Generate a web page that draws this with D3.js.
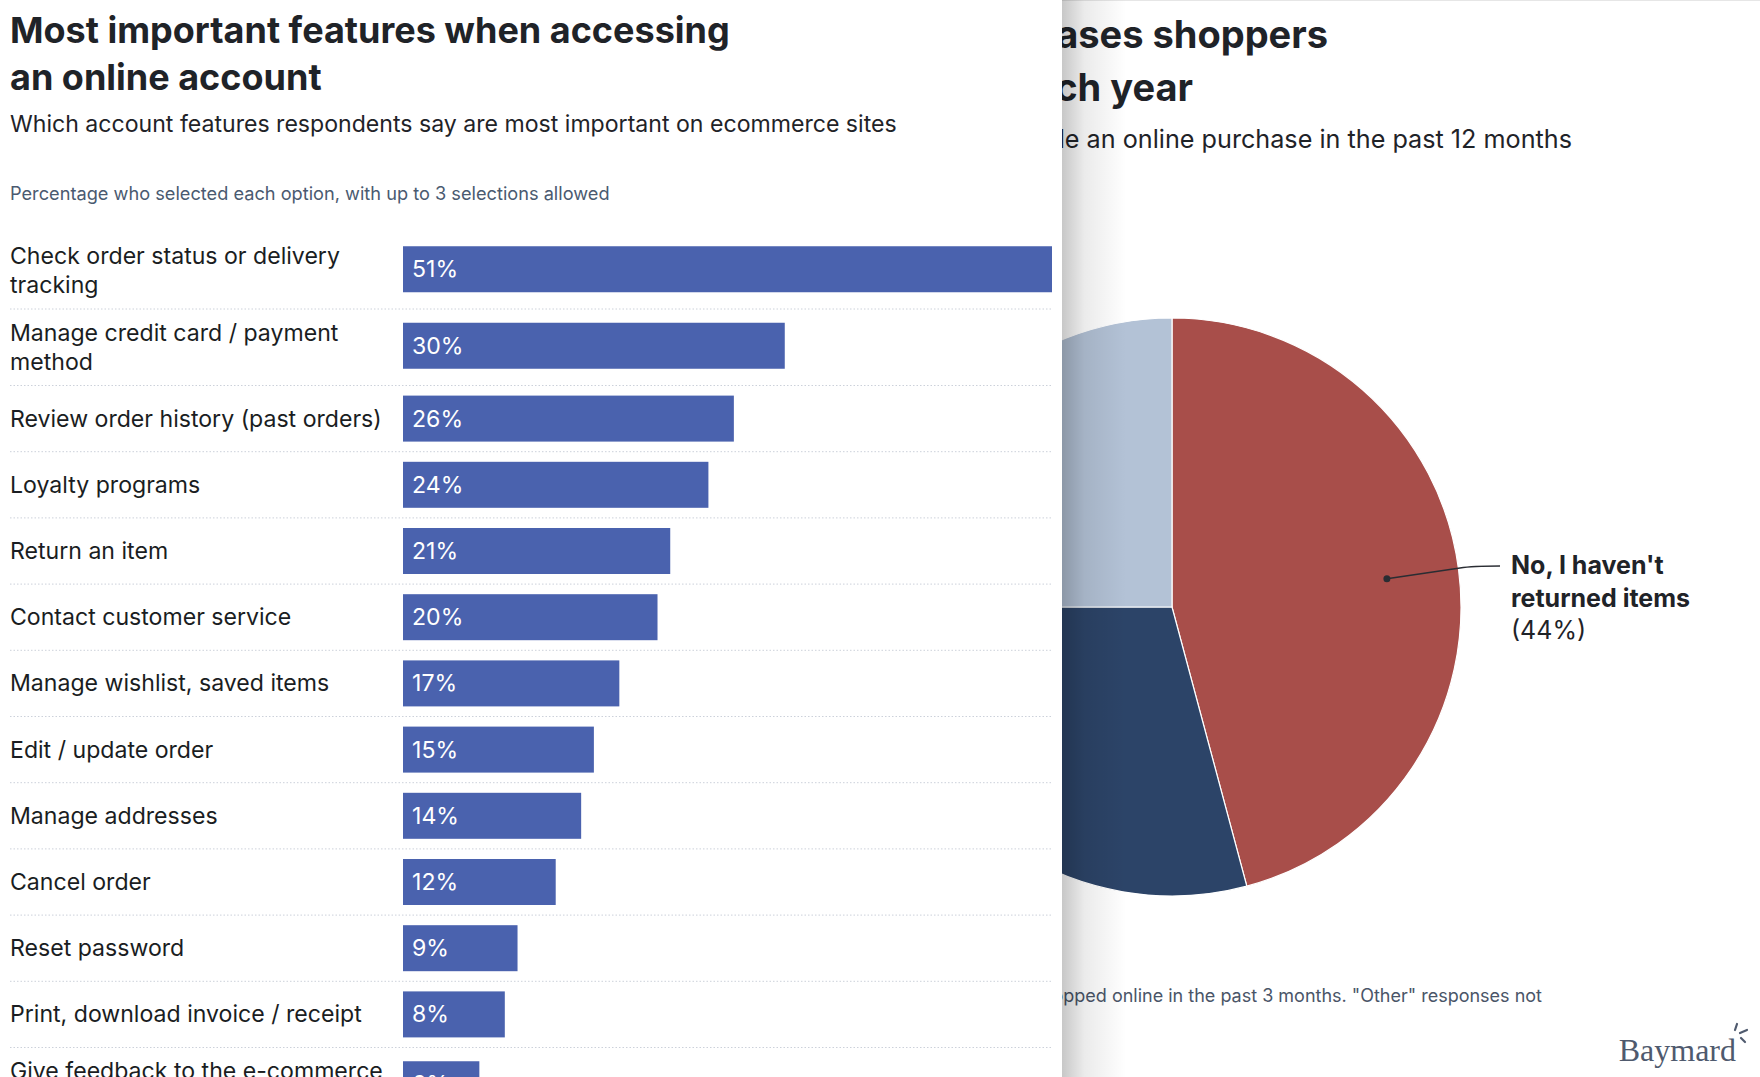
<!DOCTYPE html>
<html>
<head>
<meta charset="utf-8">
<script src="https://cdn.jsdelivr.net/npm/d3@7"></script>
<style>
  html, body { margin: 0; padding: 0; background: #fff; overflow: hidden; }
  svg { display: block; }
</style>
</head>
<body>
<div id="vis"></div>
<script>
// bar chart data (front panel)
const features = [
  ['Check order status or delivery', 'tracking'],
  ['Manage credit card / payment', 'method'],
  ['Review order history (past orders)'],
  ['Loyalty programs'],
  ['Return an item'],
  ['Contact customer service'],
  ['Manage wishlist, saved items'],
  ['Edit / update order'],
  ['Manage addresses'],
  ['Cancel order'],
  ['Reset password'],
  ['Print, download invoice / receipt'],
  ['Give feedback to the e-commerce', 'site']
];
const shares = [51, 30, 26, 24, 21, 20, 17, 15, 14, 12, 9, 8, 6];

// pie chart data (chart behind the panel, only partly visible)
const returnLabels = ["No, I haven't returned items", 'Returned some items', 'Returned many items'];
const returnShares = [44, 28, 24];

const width = 1760;
const height = 1077;
const panelW = 1062;
const font = 'Inter, "Noto Sans", sans-serif';

const svg = d3.select('#vis')
  .append('svg')
    .attr('width', width)
    .attr('height', height);

const defs = svg.append('defs');
const shadow = defs.append('linearGradient')
    .attr('id', 'shadow')
    .attr('x1', '0%').attr('x2', '100%');
shadow.append('stop').attr('offset', '0%').attr('stop-color', '#000').attr('stop-opacity', 0.22);
shadow.append('stop').attr('offset', '35%').attr('stop-color', '#000').attr('stop-opacity', 0.08);
shadow.append('stop').attr('offset', '100%').attr('stop-color', '#000').attr('stop-opacity', 0);

// ---------- background chart ----------
const back = svg.append('g');

back.append('line')
    .attr('x1', panelW).attr('x2', width)
    .attr('y1', 0.5).attr('y2', 0.5)
    .attr('stroke', '#e6e6e6');

back.append('text')
    .attr('x', 1328).attr('y', 48)
    .attr('text-anchor', 'end')
    .attr('font-family', font).attr('font-weight', 700)
    .attr('font-size', 38).attr('fill', '#1f2328')
    .text('rchases shoppers');
back.append('text')
    .attr('x', 1193).attr('y', 101)
    .attr('text-anchor', 'end')
    .attr('font-family', font).attr('font-weight', 700)
    .attr('font-size', 38).attr('fill', '#1f2328')
    .text('each year');
back.append('text')
    .attr('x', 1572).attr('y', 148)
    .attr('text-anchor', 'end')
    .attr('font-family', font)
    .attr('font-size', 25.2).attr('fill', '#1f2328')
    .text('made an online purchase in the past 12 months');

const cx = 1172, cy = 607, r = 289;
const pie = d3.pie().sort(null).value(d => d);
const arcs = pie(returnShares);
const arc = d3.arc().innerRadius(0).outerRadius(r);
const pieColor = d3.scaleOrdinal().domain(returnLabels).range(['#a84e4a', '#2c4468', '#b3c2d6']);

const pg = back.append('g').attr('transform', `translate(${cx},${cy})`);
pg.selectAll('path')
  .data(arcs)
  .join('path')
    .attr('d', arc)
    .attr('fill', (d, i) => pieColor(returnLabels[i]))
    .attr('stroke', '#fff')
    .attr('stroke-width', 1.2);

// callout for the visible slice
const inner = d3.arc().innerRadius(r * 1.5).outerRadius(0);
const dot = inner.centroid(arcs[0]);
pg.append('circle')
    .attr('cx', dot[0]).attr('cy', dot[1]).attr('r', 3.5)
    .attr('fill', '#2a2d33');
const lx = 1500 - cx, ly = 566 - cy;
pg.append('path')
    .attr('d', `M${dot[0]},${dot[1]} L${lx - 40},${ly + 2} Q${lx - 28},${ly} ${lx},${ly}`)
    .attr('fill', 'none')
    .attr('stroke', '#2a2d33')
    .attr('stroke-width', 1.5);
const callout = back.append('text')
    .attr('font-family', font).attr('font-size', 25).attr('fill', '#1f2328');
[["No, I haven't", 700], ['returned items', 700], [`(${returnShares[0]}%)`, 400]].forEach((l, i) => {
  callout.append('tspan')
      .attr('x', 1511).attr('y', 574 + i * 32.5)
      .attr('font-weight', l[1])
      .text(l[0]);
});

back.append('text')
    .attr('x', 1542).attr('y', 1002)
    .attr('text-anchor', 'end')
    .attr('font-family', font)
    .attr('font-size', 18).attr('fill', '#4a5568')
    .text('shopped online in the past 3 months. "Other" responses not');

// logo
back.append('text')
    .attr('x', 1736).attr('y', 1061)
    .attr('text-anchor', 'end')
    .attr('font-family', '"Liberation Serif", "DejaVu Serif", serif')
    .attr('font-size', 32).attr('fill', '#4f5a6e')
    .text('Baymard');
const logo = back.append('g')
    .attr('stroke', '#4f5a6e').attr('stroke-width', 2.2).attr('stroke-linecap', 'round');
logo.append('line').attr('x1', 1735).attr('y1', 1030).attr('x2', 1737).attr('y2', 1024);
logo.append('line').attr('x1', 1740).attr('y1', 1033).attr('x2', 1747).attr('y2', 1030);
logo.append('line').attr('x1', 1741).attr('y1', 1038).attr('x2', 1745).attr('y2', 1042);

// ---------- front panel ----------
svg.append('rect')
    .attr('x', panelW).attr('y', 0)
    .attr('width', 64).attr('height', height)
    .attr('fill', 'url(#shadow)');
svg.append('rect')
    .attr('x', 0).attr('y', 0)
    .attr('width', panelW).attr('height', height)
    .attr('fill', '#fff');

const g = svg.append('g');

g.append('text')
    .attr('font-family', font).attr('font-weight', 700)
    .attr('font-size', 36).attr('fill', '#1f2328')
  .selectAll('tspan')
  .data(['Most important features when accessing', 'an online account'])
  .join('tspan')
    .attr('x', 10)
    .attr('y', (d, i) => 43 + i * 47)
    .text(d => d);

g.append('text')
    .attr('x', 10).attr('y', 132)
    .attr('font-family', font)
    .attr('font-size', 23.1).attr('fill', '#1f2328')
    .text('Which account features respondents say are most important on ecommerce sites');

g.append('text')
    .attr('x', 10).attr('y', 200)
    .attr('font-family', font)
    .attr('font-size', 18.2).attr('fill', '#4a5a70')
    .text('Percentage who selected each option, with up to 3 selections allowed');

const x = d3.scaleLinear()
    .domain([0, d3.max(shares)])
    .range([403, 1052]);

// row heights grow with the number of label lines
const rowH = features.map(l => 66.2 + (l.length - 1) * 10.3);
const rowTop = d3.cumsum([232.5, ...rowH]);
const rows = features.map((l, i) => ({
  lines: l, value: shares[i], top: rowTop[i], h: rowH[i]
}));
const barH = 46;

const row = g.selectAll('.row')
  .data(rows)
  .join('g')
    .attr('class', 'row')
    .attr('transform', d => `translate(0,${d.top})`);

row.append('line')
    .attr('x1', 10).attr('x2', 1052)
    .attr('y1', d => d.h).attr('y2', d => d.h)
    .attr('stroke', '#ccd1da')
    .attr('stroke-width', 1)
    .attr('stroke-dasharray', '1.5,2');

row.append('rect')
    .attr('x', x(0))
    .attr('y', d => (d.h - barH) / 2 - (d.lines.length - 1) * 1.5)
    .attr('width', d => x(d.value) - x(0))
    .attr('height', barH)
    .attr('fill', '#4a62ae');

row.append('text')
    .attr('x', x(0) + 9)
    .attr('y', d => d.h / 2 - (d.lines.length - 1) * 1.5)
    .attr('dominant-baseline', 'central')
    .attr('font-family', font)
    .attr('font-size', 23.1)
    .attr('fill', '#fff')
    .text(d => d.value + '%');

row.append('text')
    .attr('font-family', font)
    .attr('font-size', 23.1)
    .attr('fill', '#1a1d22')
  .selectAll('tspan')
  .data(d => d.lines.map((t, i) => ({ t, i, n: d.lines.length, h: d.h })))
  .join('tspan')
    .attr('x', 10)
    .attr('y', d => d.h / 2 + (d.i - (d.n - 1) / 2) * 29)
    .attr('dominant-baseline', 'central')
    .text(d => d.t);
</script>
</body>
</html>
